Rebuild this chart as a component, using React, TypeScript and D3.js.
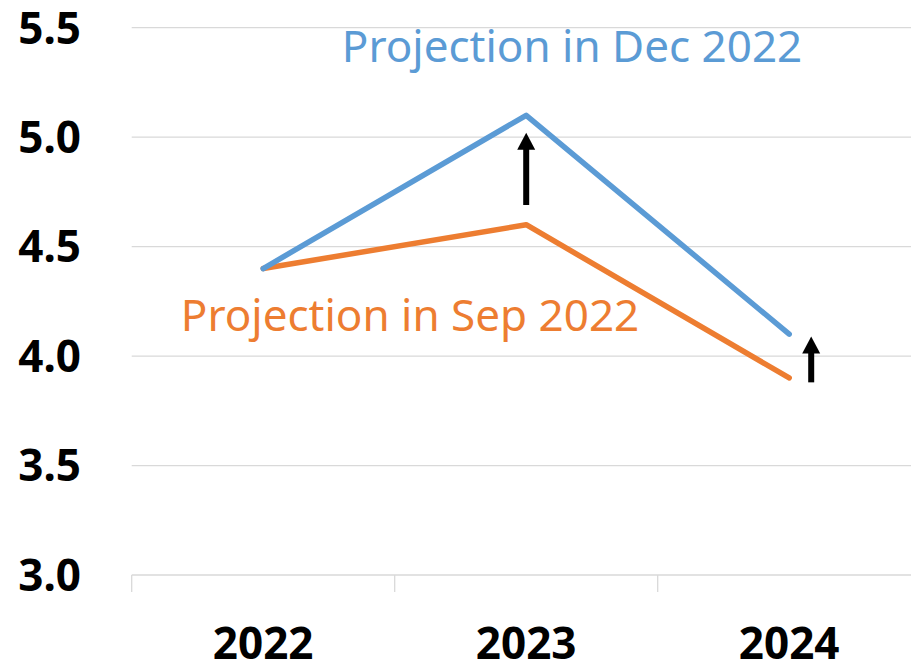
import React from "react";
import * as d3 from "d3";

const years = ["2022", "2023", "2024"];
const decValues = [4.4, 5.1, 4.1];
const sepValues = [4.4, 4.6, 3.9];
const yTicks = [3.0, 3.5, 4.0, 4.5, 5.0, 5.5];
// arrows: category, from value, to value
const arrowYears = ["2023", "2024"];
const arrowFrom = [4.69, 3.88];
const arrowTo = [5.02, 4.09];
const arrowOffsets = [0, 22];

const W = 911;
const H = 663;
const FONT = "'Noto Sans', 'Open Sans', sans-serif";

export default function App() {
  const x = d3.scaleBand<string>().domain(years).range([131.7, 920.7]);
  const y = d3.scaleLinear().domain([3.0, 5.5]).range([575, 27.7]);
  const cx = (c: string) => (x(c) as number) + x.bandwidth() / 2;
  const line = d3
    .line<number>()
    .x((_, i) => cx(years[i]))
    .y((d) => y(d));

  const ticksX = [...years.map((c) => x(c) as number), 920.7];

  return (
    <svg
      width={W}
      height={H}
      style={{ position: "absolute", left: 0, top: 0, background: "#fff" }}
      fontFamily={FONT}
    >
      {yTicks.map((t) => (
        <g key={t}>
          <line
            x1={131.7}
            x2={920.7}
            y1={y(t)}
            y2={y(t)}
            stroke="#d9d9d9"
            strokeWidth={1.3}
          />
          <text
            x={81}
            y={y(t)}
            dy="0.36em"
            textAnchor="end"
            fontSize={44}
            fontWeight={700}
            fill="#000"
          >
            {t.toFixed(1)}
          </text>
        </g>
      ))}
      {ticksX.map((tx, i) => (
        <line
          key={i}
          x1={tx}
          x2={tx}
          y1={y(3.0)}
          y2={y(3.0) + 17}
          stroke="#d9d9d9"
          strokeWidth={1.3}
        />
      ))}
      {years.map((c) => (
        <text
          key={c}
          x={cx(c)}
          y={659}
          textAnchor="middle"
          fontSize={44}
          fontWeight={700}
          fill="#000"
        >
          {c}
        </text>
      ))}
      <path
        d={line(sepValues) || ""}
        fill="none"
        stroke="#ED7D31"
        strokeWidth={5.5}
        strokeLinecap="round"
        strokeLinejoin="round"
      />
      <path
        d={line(decValues) || ""}
        fill="none"
        stroke="#5B9BD5"
        strokeWidth={5.5}
        strokeLinecap="round"
        strokeLinejoin="round"
      />
      {arrowYears.map((c, i) => {
        const ax = cx(c) + arrowOffsets[i];
        const y0 = y(arrowFrom[i]);
        const y1 = y(arrowTo[i]);
        return (
          <g key={c}>
            <line
              x1={ax}
              x2={ax}
              y1={y0}
              y2={y1 + 16}
              stroke="#000"
              strokeWidth={6}
            />
            <path
              d={`M${ax},${y1} L${ax - 9},${y1 + 17} L${ax + 9},${y1 + 17} Z`}
              fill="#000"
            />
          </g>
        );
      })}
      <text
        x={572}
        y={62}
        textAnchor="middle"
        fontSize={44}
        fill="#5B9BD5"
      >
        Projection in Dec 2022
      </text>
      <text
        x={410}
        y={331}
        textAnchor="middle"
        fontSize={44}
        fill="#ED7D31"
      >
        Projection in Sep 2022
      </text>
    </svg>
  );
}
